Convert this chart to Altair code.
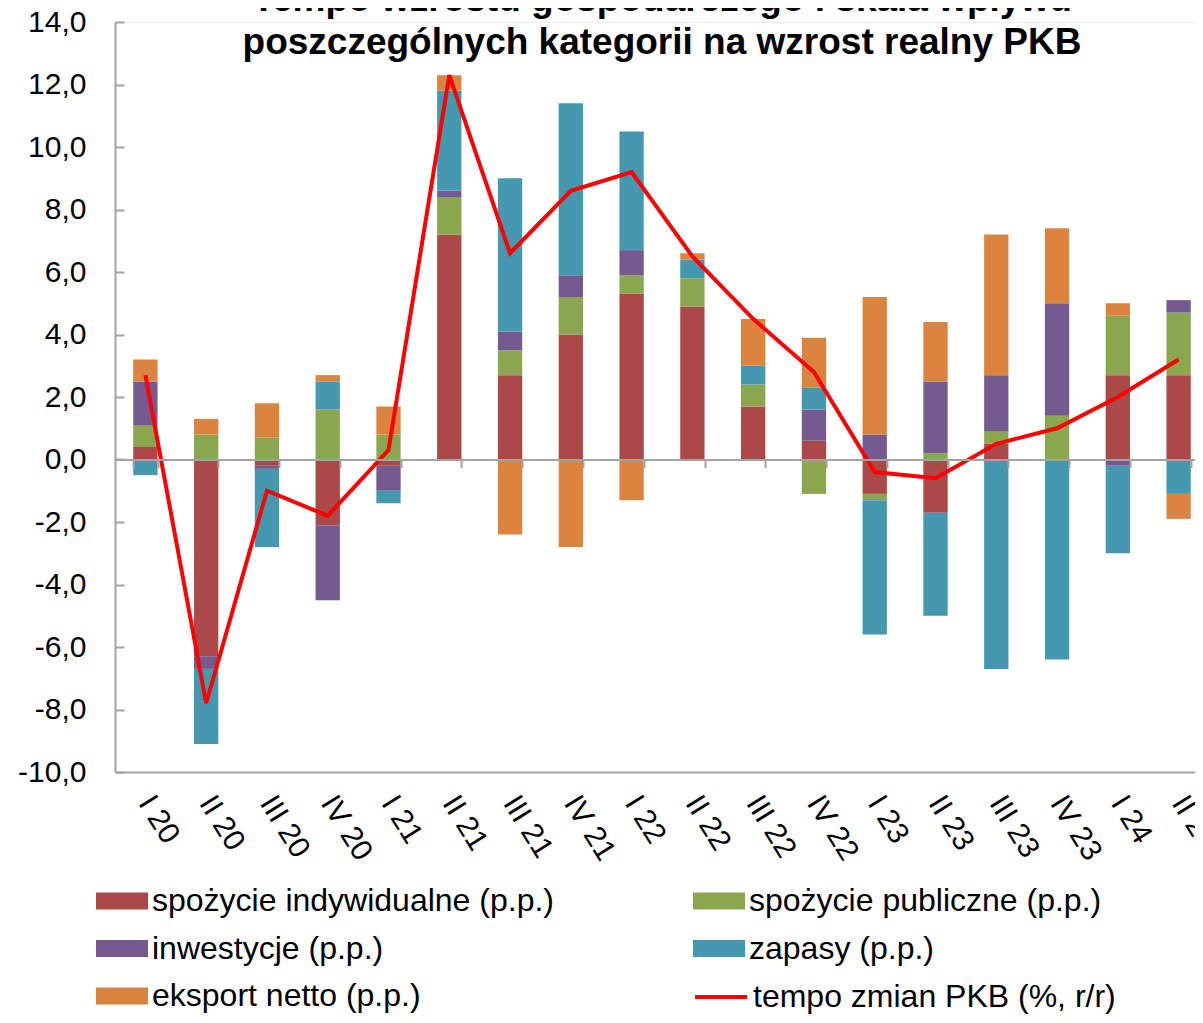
import altair as alt
import pandas as pd

categories = ["I 20", "II 20", "III 20", "IV 20", "I 21", "II 21", "III 21", "IV 21",
              "I 22", "II 22", "III 22", "IV 22", "I 23", "II 23", "III 23", "IV 23",
              "I 24", "II 24"]

spozycie_indywidualne = [0.4, -6.3, -0.2, -2.1, -0.2, 7.2, 2.7, 4.0, 5.3, 4.9, 1.7, 0.6, -1.1, -1.7, 0.5, 0.0, 2.7, 2.7]
spozycie_publiczne = [0.7, 0.8, 0.7, 1.6, 0.8, 1.2, 0.8, 1.2, 0.6, 0.9, 0.7, -1.1, -0.2, 0.2, 0.4, 1.4, 1.9, 2.0]
inwestycje = [1.4, -0.4, -0.1, -2.4, -0.8, 0.2, 0.6, 0.7, 0.8, 0.0, 0.0, 1.0, 0.8, 2.3, 1.8, 3.6, -0.2, 0.4]
zapasy = [-0.5, -2.4, -2.5, 0.9, -0.4, 3.2, 4.9, 5.5, 3.8, 0.6, 0.6, 0.7, -4.3, -3.3, -6.7, -6.4, -2.8, -1.1]
eksport_netto = [0.7, 0.5, 1.1, 0.2, 0.9, 0.5, -2.4, -2.8, -1.3, 0.2, 1.5, 1.6, 4.4, 1.9, 4.5, 2.4, 0.4, -0.8]
tempo_pkb = [2.7, -7.8, -1.0, -1.8, 0.3, 12.3, 6.6, 8.6, 9.2, 6.5, 4.5, 2.8, -0.4, -0.6, 0.5, 1.0, 2.0, 3.2]

series_names = ["spożycie indywidualne (p.p.)", "spożycie publiczne (p.p.)",
                "inwestycje (p.p.)", "zapasy (p.p.)", "eksport netto (p.p.)"]
line_name = "tempo zmian PKB (%, r/r)"
bar_colors = ["#AA4948", "#8AA64E", "#745A8E", "#4499B1", "#DB843F"]
line_color = "#FF0000"

title_lines = ["Tempo wzrostu gospodarczego i skala wpływu",
               "poszczególnych kategorii na wzrost realny PKB"]

rows = []
for si, (name, vals) in enumerate(zip(series_names, [spozycie_indywidualne, spozycie_publiczne,
                                                      inwestycje, zapasy, eksport_netto])):
    for c, v in zip(categories, vals):
        rows.append({"kwartal": c, "seria": name, "wartosc": v, "kolejnosc": si})
bars_df = pd.DataFrame(rows)
line_df = pd.DataFrame({"kwartal": categories, "linia": [line_name] * len(categories), "wartosc": tempo_pkb})

FONT = "Liberation Sans"
GRAY = "#a3a3a3"
RECT = "M-1,-0.33H1V0.33H-1Z"
LEG_X = -19
LEG_Y = 853
ROW_PAD = 5.5
COL_PAD = 139
PLOT_W = 1094
PLOT_H = 750

bar_legend = alt.Legend(
    title=None, orient="none", legendX=LEG_X, legendY=LEG_Y, columns=2, direction="horizontal",
    columnPadding=COL_PAD, rowPadding=ROW_PAD, padding=0,
    labelFont=FONT, labelFontSize=32, labelColor="black", labelLimit=800, labelOffset=4,
    symbolSize=2704, symbolType=RECT, symbolOpacity=1, symbolStrokeWidth=0,
)
line_legend = alt.Legend(
    title=None, orient="none", legendX=578, legendY=LEG_Y + 94, padding=0,
    labelFont=FONT, labelFontSize=32, labelColor="black", labelLimit=800, labelOffset=4,
    symbolSize=2704, symbolType="stroke", symbolStrokeWidth=4, symbolOpacity=1,
)

x_scale = alt.Scale(domain=categories, paddingInner=0.6, paddingOuter=0.3)
y_scale = alt.Scale(domain=[-10, 14], nice=False, zero=False)
y_values = list(range(-10, 15, 2))

y_axis_left = alt.Axis(
    orient="left", values=y_values, title=None, grid=False, ticks=False, tickSize=0,
    labelExpr="(datum.value < 0 ? '-' : '') + replace(format(abs(datum.value), '.1f'), '.', ',')",
    labelFont=FONT, labelFontSize=30, labelColor="black", labelPadding=29,
    domainColor=GRAY, domainWidth=2,
)
# inward ticks drawn by a second axis sitting on the left edge of the plot
y_axis_ticks = alt.Axis(
    orient="right", offset=-PLOT_W, values=y_values, title=None, grid=False, labels=False,
    domain=False, ticks=True, tickSize=9, tickColor=GRAY, tickWidth=2,
)

x_axis_bottom = alt.Axis(
    orient="bottom", title=None, ticks=False, tickSize=0, labelAngle=58,
    labelAlign="left", labelBaseline="middle", labelPadding=26, labelOverlap=False,
    labelFont=FONT, labelFontSize=30, labelColor="black", domainColor=GRAY, domainWidth=2,
)
# zero line with downward ticks between the categories
x_axis_zero = alt.Axis(
    orient="bottom", offset=-PLOT_H * 10 / 24, title=None, labels=False, ticks=True, tickSize=8,
    tickBand="extent", tickColor=GRAY, tickWidth=2, domainColor=GRAY, domainWidth=2,
    zindex=1, grid=False,
)

bars = alt.Chart(bars_df).mark_bar().encode(
    x=alt.X("kwartal:N", scale=x_scale, sort=categories, axis=x_axis_bottom),
    y=alt.Y("wartosc:Q", scale=y_scale, axis=y_axis_left, stack="zero"),
    color=alt.Color("seria:N", scale=alt.Scale(domain=series_names, range=bar_colors),
                    legend=bar_legend),
    order=alt.Order("kolejnosc:Q", sort="ascending"),
)

line = alt.Chart(line_df).mark_line(strokeWidth=4).encode(
    x=alt.X("kwartal:N", scale=x_scale, sort=categories, axis=x_axis_zero),
    y=alt.Y("wartosc:Q", scale=y_scale, axis=y_axis_ticks),
    stroke=alt.Stroke("linia:N", scale=alt.Scale(domain=[line_name], range=[line_color]),
                      legend=line_legend),
)

chart = alt.layer(bars, line).resolve_axis(x="independent", y="independent").properties(
    width=PLOT_W, height=PLOT_H,
    title=alt.TitleParams(text=title_lines, font=FONT, fontSize=37, fontWeight="bold",
                          color="black", lineHeight=43, anchor="middle",
                          baseline="alphabetic", offset=-84, frame="group"),
    autosize=alt.AutoSizeParams(type="none"),
    padding={"left": 107, "top": 14, "right": -14, "bottom": 243},
).configure_view(stroke="#ececec", strokeWidth=1)

chart.save("out.html", embed_options={"renderer": "svg", "actions": False})
